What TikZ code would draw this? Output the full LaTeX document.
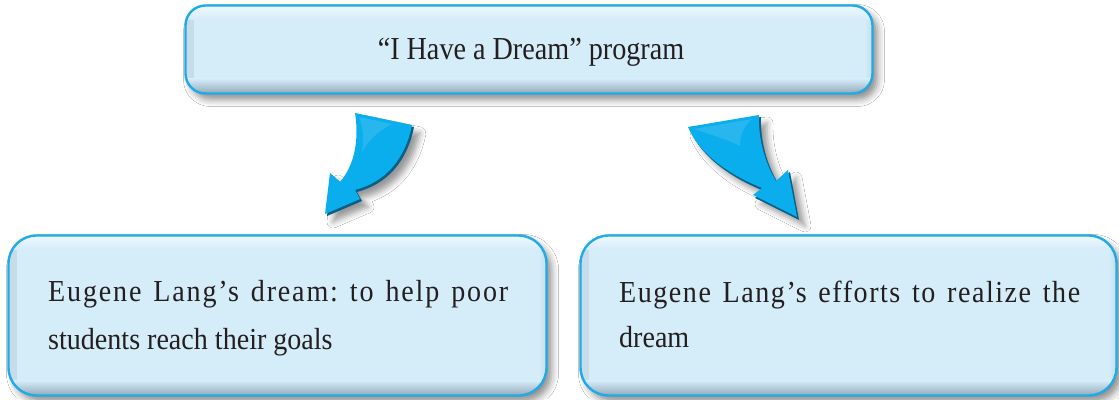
\documentclass[tikz,border=0pt]{standalone}
\usepackage{fontspec}
\usetikzlibrary{shadows.blur}
\newfontfamily\bodyfont[FakeStretch=0.92]{Liberation Serif}
\newfontfamily\topfont[FakeStretch=0.88]{Liberation Serif}
\frenchspacing
\definecolor{boxfill}{HTML}{D5ECF9}
\definecolor{boxline}{HTML}{1FAAE8}
\definecolor{boxdark}{HTML}{93A9B8}
\definecolor{boxlight}{HTML}{EEF8FE}
\definecolor{boxside}{HTML}{C6DCE9}
\definecolor{textc}{HTML}{231F20}
\definecolor{arrowc}{HTML}{0AAEEC}
\definecolor{arrowdark}{HTML}{0A5F86}
\definecolor{arrowlight}{HTML}{4CC4F2}
\tikzset{
  fancybox/.style={draw=boxline, line width=2.4pt, fill=boxfill, rounded corners=#1,
    blur shadow={shadow xshift=5pt, shadow yshift=-6pt, shadow blur radius=7pt, shadow opacity=45},
    path picture={
      \shade[sharp corners, left color=boxside, right color=boxfill]
        ([yshift=15pt]path picture bounding box.south west) rectangle ([xshift=8pt,yshift=-14pt]path picture bounding box.north west);
      \shade[sharp corners, left color=boxfill, right color=boxside]
        ([xshift=-8pt,yshift=15pt]path picture bounding box.south east) rectangle ([yshift=-14pt]path picture bounding box.north east);
      \shade[sharp corners, top color=boxfill, bottom color=boxdark]
        ([yshift=15pt]path picture bounding box.south west) rectangle (path picture bounding box.south east);
      \shade[sharp corners, top color=boxlight, bottom color=boxfill]
        (path picture bounding box.north west) rectangle ([yshift=-14pt]path picture bounding box.north east);
    }},
  txt/.style={inner sep=0pt, text=textc, font=\bodyfont\fontsize{30.5}{36}\selectfont},
  toptxt/.style={inner sep=0pt, text=textc, font=\topfont\fontsize{32}{38}\selectfont},
  arrowshadow/.style={blur shadow={shadow xshift=6pt, shadow yshift=-6pt, shadow blur radius=6pt, shadow opacity=40}},
}
\begin{document}
\begin{tikzpicture}[x=1pt, y=-1pt]
\useasboundingbox (0,0) rectangle (1119,399);
\fill[white] (0,0) rectangle (1119,399);

% boxes
\node[fancybox=20pt, minimum width=687pt, minimum height=88pt, inner sep=0pt] (top) at (529,49.5) {};
\node[fancybox=28pt, minimum width=538pt, minimum height=160pt, inner sep=0pt] (left) at (277.5,315.5) {};
\node[fancybox=28pt, minimum width=536pt, minimum height=160pt, inner sep=0pt] (right) at (848.5,315.5) {};

% texts
\node[toptxt, anchor=base] (ttop) at (531,59) {“I Have a Dream” program};
\node[txt, anchor=base west] (l1) at (48,301) {\makebox[460pt][s]{\addfontfeature{LetterSpace=6}Eugene Lang’s dream: to help poor}};
\node[txt, anchor=base west] (l2) at (48,349) {students reach their goals};
\node[txt, anchor=base west] (r1) at (619,302) {\makebox[461pt][s]{\addfontfeature{LetterSpace=5}Eugene Lang’s efforts to realize the}};
\node[txt, anchor=base west] (r2) at (619,347) {dream};

% left arrow
\fill[arrowshadow, arrowdark]
  (357,115) -- (414,127) .. controls (407,162) and (387,184) .. (357,192) -- (362,201) -- (327,216) -- (332,175) -- (342,184) .. controls (354,170) and (362,147) .. cycle;
\fill[arrowc]
  (355,113) -- (412,125) .. controls (405,160) and (385,182) .. (355,190) -- (360,199) -- (325,214) -- (330,173) -- (340,182) .. controls (352,168) and (360,145) .. cycle;
\fill[arrowlight, opacity=0.45]
  (359,117) -- (392,124) .. controls (378,131) and (368,141) .. (362,152) .. controls (364,138) and (363,127) .. cycle;

% right arrow
\fill[arrowshadow, arrowdark]
  (690,130) -- (761,117) .. controls (760,142) and (768,167) .. (778,183) -- (790,172) -- (799,220) -- (755,198) -- (764,191) .. controls (732,178) and (702,158) .. cycle;
\fill[arrowc]
  (688,127) -- (759,115) .. controls (758,140) and (766,165) .. (776,181) -- (788,170) -- (797,217) -- (753,195) -- (762,188) .. controls (730,175) and (700,155) .. cycle;
\fill[arrowlight, opacity=0.45]
  (694,129) -- (752,119) .. controls (744,126) and (740,134) .. (740,146) .. controls (724,138) and (708,134) .. cycle;
\end{tikzpicture}
\end{document}
